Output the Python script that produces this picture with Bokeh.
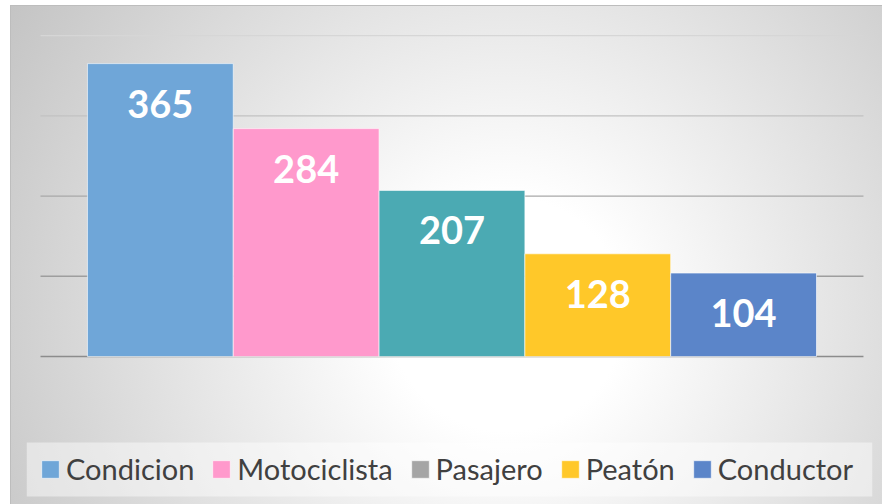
from bokeh.plotting import figure
from bokeh.models import ColumnDataSource, Range1d, Legend, LegendItem, LabelSet
from bokeh.core.properties import value
from bokeh.embed import file_html
from bokeh.resources import INLINE

categories = ["Condicion", "Motociclista", "Pasajero", "Peatón", "Conductor"]
values = [365, 284, 207, 128, 104]
bar_colors = ["#6FA6D8", "#FF99CC", "#4BAAB3", "#FFC829", "#5B85C9"]
legend_colors = ["#6FA6D8", "#FF99CC", "#A5A5A5", "#FFC829", "#5B85C9"]
grid_values = [0, 100, 200, 300, 400]
grid_colors = ["#8c8c8c", "#9e9e9e", "#a8a8a8", "#c2c2c2", "#d6d6d6"]

n = len(categories)
gap = 0.322  # side gap of the plot area, in bar widths
x_lo, x_hi = -0.418, n + 0.384
legend_box = (-174.5, -107.2)  # vertical extent of the legend panel (data units)

p = figure(width=872, height=499, output_backend="svg", toolbar_location=None, title=None,
           x_range=Range1d(x_lo, x_hi), y_range=Range1d(-184.4, 412.5),
           x_axis_location=None, y_axis_location=None,
           min_border_left=16, min_border_right=10, min_border_top=20, min_border_bottom=0)
p.xgrid.visible = False
p.ygrid.visible = False
p.background_fill_alpha = 0
p.border_fill_alpha = 0
p.outline_line_color = None
p.styles = {
    "margin-left": "10px",
    "margin-top": "5px",
    "background": "radial-gradient(circle farthest-corner at 57% 62%, #ffffff 0%, #ffffff 20%, #c4c4c4 100%)",
    "box-shadow": "inset 1px 1px 0 #bdbdbd",
}

# legend panel background
p.quad(left=[x_lo], right=[x_hi], bottom=[legend_box[0]], top=[legend_box[1]],
       fill_color="white", fill_alpha=0.45, line_color=None)

grid_src = ColumnDataSource(dict(
    x0=[-gap] * len(grid_values), x1=[n + gap] * len(grid_values),
    y=grid_values, color=grid_colors,
))
p.segment(x0="x0", x1="x1", y0="y", y1="y", line_color="color", line_width=1.3, source=grid_src)

src = ColumnDataSource(dict(
    x=[i + 0.5 for i in range(n)],
    top=values,
    color=bar_colors,
    legend_color=legend_colors,
    label=[str(v) for v in values],
))
p.vbar(x="x", top="top", bottom=0, width=1, fill_color="color", line_color="white",
       line_alpha=0.6, line_width=1, source=src)

labels = LabelSet(x="x", y="top", text="label", source=src, text_align="center",
                  text_baseline="middle", y_offset=-40, text_color="white",
                  text_font=value("Lato"), text_font_style="bold", text_font_size="38px")
p.add_layout(labels)

# hidden renderer used only for the legend swatches
leg_r = p.vbar(x="x", top="top", bottom=0, width=1, fill_color="legend_color",
               line_color="white", line_alpha=0.6, source=src, visible=False)
items = [LegendItem(label=cat, renderers=[leg_r], index=i) for i, cat in enumerate(categories)]

legend = Legend(items=items, location=(13, 18), orientation="horizontal",
                glyph_width=22, glyph_height=22, label_standoff=5, spacing=16,
                padding=0, margin=0,
                background_fill_alpha=0, border_line_color=None,
                label_text_font="Lato", label_text_font_size="29px",
                label_text_color="#404040", inactive_fill_alpha=0)
p.add_layout(legend)

open("out.html", "w").write(file_html(p, INLINE))
